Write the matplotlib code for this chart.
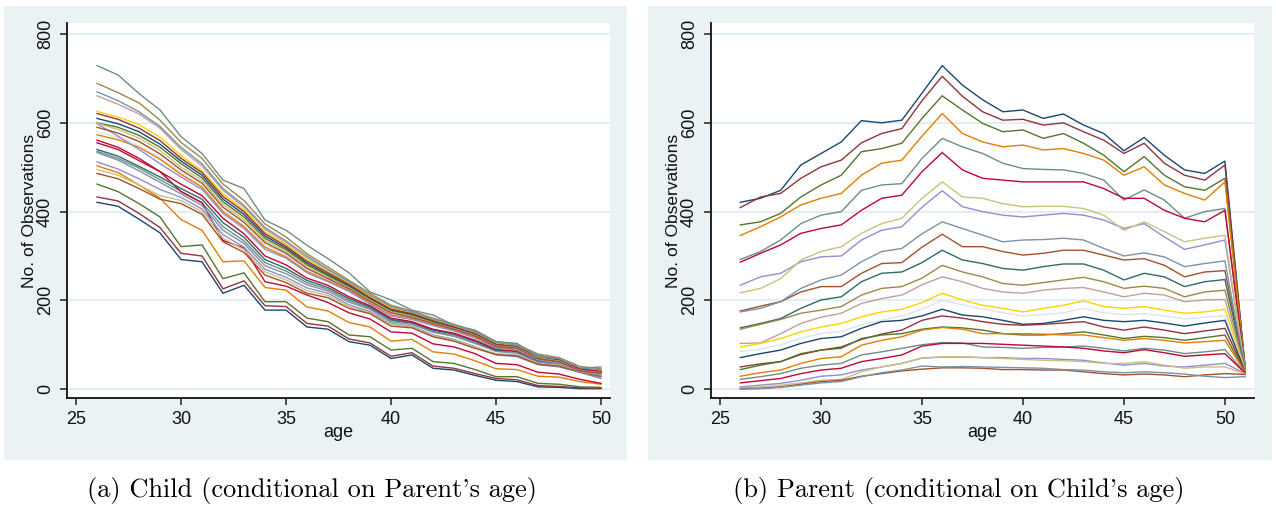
import matplotlib.pyplot as plt
from matplotlib.patches import Rectangle

# age axis of each panel
child_ages = list(range(26, 51))
parent_ages = list(range(26, 52))

# Stata s2color pens, cycled over the conditioning groups
pens = ['#1a476f', '#90353b', '#55752f', '#e37e00', '#6e8e84', '#c10534',
        '#938dd2', '#cac27e', '#a0522d', '#7b92a8', '#2d6d66', '#9c8847',
        '#bfa19c', '#ffd200', '#d9e6eb']

# (a) child observations by age, one line per parent-age group
child_obs = [
    [421, 412, 383, 352, 292, 287, 216, 234, 178, 178, 140, 135, 107, 99, 69, 77, 47, 43, 31, 20, 17, 5, 4, 1, 1],
    [433, 424, 396, 364, 306, 300, 226, 244, 188, 186, 148, 142, 113, 104, 74, 82, 52, 47, 35, 24, 21, 8, 6, 3, 2],
    [462, 445, 418, 388, 321, 325, 249, 262, 197, 197, 160, 152, 122, 118, 88, 92, 62, 58, 44, 28, 28, 13, 11, 5, 4],
    [503, 488, 460, 430, 382, 358, 287, 289, 229, 223, 185, 176, 150, 140, 108, 112, 84, 79, 64, 46, 44, 29, 27, 17, 11],
    [536, 520, 498, 472, 446, 420, 366, 334, 285, 266, 240, 225, 200, 182, 155, 148, 130, 121, 105, 86, 82, 60, 55, 38, 24],
    [561, 545, 520, 490, 445, 420, 335, 318, 242, 232, 212, 195, 172, 158, 129, 126, 102, 95, 80, 58, 55, 38, 34, 22, 13],
    [512, 496, 474, 450, 432, 406, 348, 320, 270, 252, 228, 216, 190, 175, 148, 142, 122, 112, 96, 77, 73, 55, 50, 38, 28],
    [495, 482, 460, 436, 425, 400, 340, 314, 264, 246, 222, 211, 186, 172, 146, 140, 120, 110, 95, 80, 77, 58, 54, 40, 30],
    [486, 474, 452, 428, 418, 394, 332, 308, 257, 240, 216, 206, 182, 170, 142, 138, 118, 108, 92, 78, 75, 56, 52, 38, 29],
    [533, 516, 492, 466, 440, 414, 358, 328, 278, 260, 235, 221, 196, 180, 152, 146, 128, 119, 103, 85, 81, 62, 57, 42, 34],
    [540, 525, 502, 478, 452, 428, 375, 342, 292, 272, 245, 229, 204, 185, 157, 150, 133, 124, 108, 88, 85, 64, 59, 44, 36],
    [689, 668, 645, 606, 556, 520, 462, 425, 372, 343, 305, 275, 245, 216, 189, 176, 160, 146, 131, 107, 101, 79, 71, 51, 46],
    [661, 642, 620, 588, 540, 503, 448, 410, 360, 330, 296, 268, 240, 210, 184, 172, 156, 142, 127, 104, 99, 76, 69, 47, 42],
    [626, 613, 596, 568, 526, 492, 440, 404, 354, 326, 292, 264, 238, 208, 182, 171, 155, 141, 126, 102, 97, 74, 67, 46, 41],
    [580, 567, 549, 522, 488, 458, 404, 370, 325, 302, 268, 246, 224, 196, 169, 160, 146, 133, 118, 95, 90, 67, 60, 40, 33],
    [610, 598, 580, 552, 514, 482, 428, 394, 345, 318, 284, 258, 233, 204, 178, 168, 152, 139, 124, 100, 95, 72, 65, 44, 39],
    [621, 608, 588, 560, 520, 488, 434, 400, 350, 322, 288, 262, 236, 206, 180, 170, 154, 140, 125, 101, 96, 73, 66, 45, 40],
    [600, 590, 572, 545, 508, 476, 422, 388, 340, 314, 280, 255, 230, 202, 176, 166, 150, 137, 122, 98, 94, 71, 64, 43, 38],
    [573, 562, 545, 518, 484, 455, 400, 366, 320, 298, 265, 244, 222, 194, 167, 159, 145, 132, 117, 94, 91, 68, 61, 40, 34],
    [729, 708, 666, 629, 569, 531, 471, 452, 381, 358, 324, 294, 262, 219, 201, 178, 167, 144, 133, 107, 103, 73, 69, 47, 50],
    [555, 540, 515, 490, 462, 436, 385, 350, 300, 280, 250, 234, 208, 188, 160, 152, 135, 126, 110, 90, 86, 66, 60, 46, 38],
    [598, 570, 540, 508, 478, 450, 396, 362, 315, 295, 262, 242, 220, 192, 165, 157, 143, 131, 115, 92, 88, 66, 59, 39, 32],
    [599, 585, 566, 538, 500, 470, 416, 382, 335, 310, 276, 252, 228, 200, 174, 164, 149, 136, 121, 97, 93, 70, 63, 42, 37],
    [590, 577, 558, 530, 494, 464, 410, 376, 330, 306, 272, 249, 226, 198, 172, 162, 148, 135, 120, 96, 92, 69, 62, 41, 36],
    [670, 650, 625, 592, 545, 508, 452, 414, 364, 334, 300, 270, 242, 212, 186, 174, 158, 144, 129, 105, 100, 77, 70, 48, 44],
]

# (b) parent observations by age, one line per child-age group
parent_obs = [
    [421, 430, 448, 505, 531, 557, 605, 600, 606, 667, 729, 685, 652, 625, 629, 610, 620, 595, 576, 537, 567, 527, 494, 486, 514, 50],
    [409, 433, 441, 475, 501, 516, 555, 576, 587, 650, 705, 660, 625, 606, 608, 595, 600, 580, 561, 531, 554, 509, 482, 471, 505, 48],
    [370, 377, 396, 433, 460, 482, 535, 542, 554, 610, 661, 629, 599, 580, 584, 565, 576, 554, 527, 490, 524, 482, 456, 448, 475, 47],
    [346, 366, 388, 415, 430, 441, 482, 509, 516, 570, 621, 576, 557, 546, 550, 539, 542, 531, 516, 482, 501, 460, 441, 426, 467, 46],
    [292, 310, 336, 373, 392, 400, 448, 460, 463, 520, 565, 546, 531, 509, 497, 495, 494, 486, 471, 426, 449, 426, 385, 400, 407, 45],
    [286, 306, 325, 351, 362, 370, 403, 430, 437, 490, 533, 494, 475, 471, 467, 467, 467, 467, 452, 430, 430, 403, 385, 377, 403, 45],
    [234, 253, 261, 287, 298, 300, 336, 358, 366, 410, 447, 411, 400, 392, 388, 392, 396, 392, 381, 362, 373, 343, 315, 325, 336, 44],
    [217, 227, 249, 291, 310, 321, 351, 373, 385, 430, 467, 433, 430, 418, 411, 412, 412, 407, 392, 358, 377, 355, 332, 340, 347, 44],
    [176, 187, 197, 219, 231, 231, 261, 283, 285, 320, 349, 321, 321, 310, 302, 306, 313, 313, 302, 291, 294, 279, 253, 264, 267, 43],
    [174, 182, 197, 227, 246, 257, 287, 310, 317, 350, 377, 362, 347, 332, 336, 337, 340, 336, 317, 300, 307, 298, 276, 283, 289, 43],
    [138, 148, 159, 182, 201, 208, 242, 261, 264, 285, 313, 291, 283, 272, 268, 276, 282, 282, 268, 246, 261, 253, 231, 242, 247, 42],
    [135, 146, 157, 171, 178, 186, 212, 227, 231, 250, 279, 264, 253, 238, 234, 240, 246, 252, 242, 227, 232, 227, 208, 219, 223, 42],
    [103, 104, 125, 148, 162, 171, 193, 204, 212, 235, 253, 242, 227, 219, 216, 223, 227, 229, 219, 208, 216, 212, 197, 201, 202, 41],
    [95, 103, 114, 129, 140, 148, 163, 174, 180, 195, 216, 201, 189, 182, 174, 182, 189, 199, 186, 182, 186, 178, 171, 174, 180, 41],
    [85, 90, 100, 115, 125, 130, 145, 155, 165, 180, 200, 190, 180, 172, 165, 168, 172, 182, 172, 168, 170, 165, 158, 162, 165, 40],
    [71, 80, 88, 103, 114, 118, 137, 152, 155, 165, 180, 167, 163, 155, 146, 148, 155, 163, 155, 152, 155, 149, 142, 149, 155, 40],
    [50, 57, 62, 78, 88, 95, 112, 124, 133, 155, 165, 160, 152, 146, 144, 146, 149, 152, 140, 133, 140, 133, 125, 131, 137, 39],
    [44, 54, 62, 80, 88, 92, 114, 122, 125, 135, 140, 138, 133, 125, 122, 122, 125, 129, 122, 114, 119, 116, 110, 116, 122, 38],
    [29, 37, 43, 58, 69, 73, 99, 110, 118, 133, 139, 135, 125, 125, 125, 124, 122, 122, 116, 110, 114, 110, 104, 107, 110, 38],
    [22, 28, 35, 47, 54, 58, 77, 84, 92, 100, 105, 104, 95, 94, 92, 94, 95, 97, 92, 86, 92, 88, 80, 84, 89, 37],
    [14, 19, 24, 35, 43, 47, 62, 69, 77, 97, 103, 103, 103, 101, 99, 97, 95, 92, 86, 82, 89, 82, 74, 77, 80, 36],
    [5, 9, 13, 20, 29, 32, 43, 50, 58, 70, 72, 72, 71, 71, 69, 69, 67, 65, 59, 54, 58, 52, 50, 54, 58, 35],
    [3, 5, 9, 14, 20, 22, 39, 50, 58, 70, 73, 73, 71, 69, 67, 65, 64, 62, 58, 58, 62, 54, 47, 50, 50, 34],
    [1, 2, 5, 11, 17, 20, 29, 35, 41, 45, 48, 48, 47, 44, 44, 43, 43, 39, 35, 32, 34, 32, 28, 32, 35, 33],
    [0, 1, 4, 9, 14, 17, 28, 37, 43, 52, 50, 51, 50, 49, 48, 47, 44, 43, 39, 37, 39, 37, 34, 29, 26, 28],
]

y_ticks = [0, 200, 400, 600, 800]
x_ticks = [25, 30, 35, 40, 45, 50]

W, H = 1276, 508
region_bg = '#eaf2f3'
grid_col = '#e4eef0'

plt.rcParams['font.family'] = ['Liberation Sans', 'DejaVu Sans']

fig = plt.figure(figsize=(W / 100, H / 100), dpi=100)


def px_box(x0, y0, x1, y1):
    # pixel box (top-left origin) -> figure fraction [left, bottom, width, height]
    return [x0 / W, 1 - y1 / H, (x1 - x0) / W, (y1 - y0) / H]


def panel(region, plot_box, ages, series, xlim, caption, cap_x):
    l, b, w, h = px_box(*region)
    fig.patches.append(Rectangle((l, b), w, h, transform=fig.transFigure,
                                 facecolor=region_bg, edgecolor='none', zorder=-5))
    ax = fig.add_axes(px_box(*plot_box))
    ax.set_facecolor('white')
    for i, ys in enumerate(series):
        ax.plot(ages, ys, color=pens[i % len(pens)], lw=1.0, solid_joinstyle='miter')
    ax.set_xlim(*xlim)
    ax.set_ylim(-20, 825)
    ax.set_xticks(x_ticks)
    ax.set_yticks(y_ticks)
    ax.yaxis.grid(True, color=grid_col, lw=1.6)
    ax.set_axisbelow(True)
    for s in ['top', 'right']:
        ax.spines[s].set_visible(False)
    for s in ['left', 'bottom']:
        ax.spines[s].set_color('#111111')
        ax.spines[s].set_linewidth(1.3)
    ax.tick_params(direction='out', length=5, width=1.1, color='#222222',
                   labelsize=13, labelcolor='#111111', pad=4.5)
    for lab in ax.get_yticklabels():
        lab.set_rotation(90)
        lab.set_va('center')
    ax.set_ylabel('No. of Observations', fontsize=12.5, color='#111111')
    ax.yaxis.set_label_coords(-0.055, 0.5)
    ax.set_xlabel('age', fontsize=13, color='#111111')
    ax.xaxis.set_label_coords(0.5, -0.07)
    fig.text(cap_x / W, 1 - 490 / H, caption, ha='center', va='center',
             family=['cmr10', 'DejaVu Serif'], fontsize=19)
    return ax


panel((4, 6, 627, 460), (67, 23, 610, 398), child_ages, child_obs,
      (24.57, 50.43), "(a) Child (conditional on Parent's age)", 312)
panel((648, 6, 1272, 460), (711, 23, 1254, 398), parent_ages, parent_obs,
      (24.55, 51.44), "(b) Parent (conditional on Child's age)", 959)

fig.savefig('out.png', dpi=100)
